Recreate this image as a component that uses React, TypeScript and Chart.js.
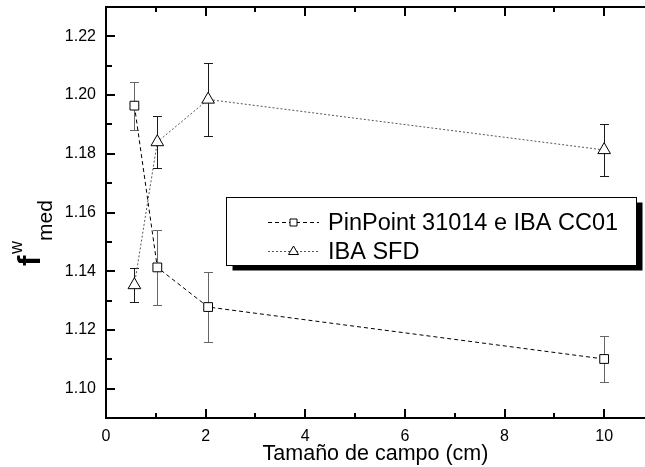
import React, { useEffect, useRef } from 'react';
import { Chart, registerables } from 'chart.js';

Chart.register(...registerables);

// ---- data ----
const fieldSizes = [0.57, 1.03, 2.05, 10];
const pinpointValues = [1.1964, 1.1413, 1.1278, 1.1101];
const pinpointErrors = [0.0082, 0.0128, 0.0118, 0.008];
const sfdValues = [1.1353, 1.184, 1.1985, 1.1813];
const sfdErrors = [0.0057, 0.0089, 0.0124, 0.0088];
const seriesLabels = ['PinPoint 31014 e IBA CC01', 'IBA SFD'];
const xMajorTicks = [0, 2, 4, 6, 8, 10];
const xMinorTicks = [1, 3, 5, 7, 9];
const yMajorTicks = [1.1, 1.12, 1.14, 1.16, 1.18, 1.2, 1.22];
const yMinorTicks = [1.11, 1.13, 1.15, 1.17, 1.19, 1.21];
const xAxisTitle = 'Tamaño de campo (cm)';
const yTitleMain = 'f';
const yTitleSup = 'w';
const yTitleSub = 'med';

const X_MIN = 0;
const X_MAX = 10.82;
const Y_MIN = 1.09;
const Y_MAX = 1.23;

const FONT = "'Liberation Sans', Arial, Helvetica, sans-serif";

const zeroPadding = (scale: any) => {
  scale.paddingTop = 0;
  scale.paddingBottom = 0;
  scale.paddingLeft = 0;
  scale.paddingRight = 0;
};

const decorPlugin = {
  id: 'decor',
  beforeDatasetsDraw(chart: any) {
    const ctx = chart.ctx;
    const xs = chart.scales.x;
    const ys = chart.scales.y;
    const series = [
      { v: pinpointValues, e: pinpointErrors, c: '#666666' },
      { v: sfdValues, e: sfdErrors, c: '#1a1a1a' },
    ];
    ctx.save();
    ctx.lineWidth = 1;
    ctx.setLineDash([]);
    series.forEach((s) => {
      ctx.strokeStyle = s.c;
      fieldSizes.forEach((xv, i) => {
        const x = Math.round(xs.getPixelForValue(xv)) + 0.5;
        const yt = Math.round(ys.getPixelForValue(s.v[i] + s.e[i])) + 0.5;
        const yb = Math.round(ys.getPixelForValue(s.v[i] - s.e[i])) + 0.5;
        ctx.beginPath();
        ctx.moveTo(x, yt);
        ctx.lineTo(x, yb);
        ctx.moveTo(x - 4.5, yt);
        ctx.lineTo(x + 4.5, yt);
        ctx.moveTo(x - 4.5, yb);
        ctx.lineTo(x + 4.5, yb);
        ctx.stroke();
      });
    });
    ctx.restore();
  },
  afterDraw(chart: any) {
    const ctx = chart.ctx;
    const xs = chart.scales.x;
    const ys = chart.scales.y;
    const area = chart.chartArea;
    ctx.save();
    ctx.setLineDash([]);
    ctx.strokeStyle = '#000';
    ctx.lineWidth = 2;
    // top border
    ctx.beginPath();
    ctx.moveTo(area.left - 1, area.top);
    ctx.lineTo(chart.width, area.top);
    ctx.stroke();
    // inward ticks
    ctx.beginPath();
    const tickX = (v: number, len: number) => {
      const x = Math.round(xs.getPixelForValue(v));
      ctx.moveTo(x, area.bottom);
      ctx.lineTo(x, area.bottom - len);
      ctx.moveTo(x, area.top);
      ctx.lineTo(x, area.top + len);
    };
    xMajorTicks.forEach((v) => { if (v > X_MIN) tickX(v, 9); });
    xMinorTicks.forEach((v) => tickX(v, 5));
    const tickY = (v: number, len: number) => {
      const y = Math.round(ys.getPixelForValue(v));
      ctx.moveTo(area.left, y);
      ctx.lineTo(area.left + len, y);
    };
    yMajorTicks.forEach((v) => tickY(v, 9));
    yMinorTicks.forEach((v) => tickY(v, 6));
    ctx.stroke();

    // legend
    const lx = 226.5, ly = 197.5, lw = 410, lh = 68;
    ctx.fillStyle = '#000';
    ctx.fillRect(lx + 6, ly + 5, lw, lh);
    ctx.fillStyle = '#fff';
    ctx.fillRect(lx, ly, lw, lh);
    ctx.lineWidth = 1;
    ctx.strokeStyle = '#000';
    ctx.strokeRect(lx, ly, lw, lh);
    const rows = [
      { y: 222.5, dash: [4, 3], color: '#000', style: 'rect', label: seriesLabels[0] },
      { y: 251.5, dash: [2, 2], color: '#555', style: 'triangle', label: seriesLabels[1] },
    ];
    rows.forEach((row) => {
      ctx.strokeStyle = row.color;
      ctx.lineWidth = 1;
      ctx.setLineDash(row.dash);
      ctx.beginPath();
      ctx.moveTo(268, row.y);
      ctx.lineTo(319, row.y);
      ctx.stroke();
      ctx.setLineDash([]);
      ctx.fillStyle = '#fff';
      ctx.strokeStyle = '#000';
      ctx.beginPath();
      if (row.style === 'rect') {
        ctx.rect(290, row.y - 3.5, 7, 7);
      } else {
        ctx.moveTo(293.5, row.y - 5.5);
        ctx.lineTo(298.5, row.y + 3);
        ctx.lineTo(288.5, row.y + 3);
        ctx.closePath();
      }
      ctx.fill();
      ctx.stroke();
      ctx.fillStyle = '#000';
      ctx.font = `23.5px ${FONT}`;
      ctx.textBaseline = 'middle';
      ctx.textAlign = 'left';
      ctx.fillText(row.label, 328, row.y + 1);
    });

    // y axis title f^w_med
    ctx.save();
    ctx.translate(40, 266);
    ctx.rotate(-Math.PI / 2);
    ctx.fillStyle = '#000';
    ctx.textBaseline = 'alphabetic';
    ctx.textAlign = 'left';
    ctx.font = `bold 31px ${FONT}`;
    ctx.fillText(yTitleMain, 0, 0);
    ctx.font = `18px ${FONT}`;
    ctx.fillText(yTitleSup, 12, -18);
    ctx.font = `21px ${FONT}`;
    ctx.fillText(yTitleSub, 25, 12);
    ctx.restore();

    ctx.restore();
  },
};

export default function App() {
  const canvasRef = useRef<HTMLCanvasElement | null>(null);

  useEffect(() => {
    const canvas = canvasRef.current;
    if (!canvas) return;
    const mk = (vals: number[]) => fieldSizes.map((x, i) => ({ x, y: vals[i] }));
    const chart = new Chart(canvas, {
      type: 'line',
      data: {
        datasets: [
          {
            label: seriesLabels[0],
            data: mk(pinpointValues),
            borderColor: '#000',
            borderWidth: 1,
            borderDash: [4, 3],
            pointStyle: 'rect',
            pointRadius: 6.2,
            pointBackgroundColor: '#fff',
            pointBorderColor: '#000',
            pointBorderWidth: 1,
            tension: 0,
          },
          {
            label: seriesLabels[1],
            data: mk(sfdValues),
            borderColor: '#555',
            borderWidth: 1,
            borderDash: [2, 2],
            pointStyle: 'triangle',
            pointRadius: 7.3,
            pointBackgroundColor: '#fff',
            pointBorderColor: '#000',
            pointBorderWidth: 1,
            tension: 0,
          },
        ],
      },
      options: {
        animation: false,
        responsive: false,
        maintainAspectRatio: false,
        devicePixelRatio: 1,
        layout: { autoPadding: false, padding: { top: 7, right: 0, bottom: 0, left: 0 } },
        plugins: {
          legend: { display: false },
          tooltip: { enabled: false },
        },
        scales: {
          x: {
            type: 'linear',
            min: X_MIN,
            max: X_MAX,
            afterBuildTicks: (scale: any) => {
              scale.ticks = xMajorTicks.map((value) => ({ value }));
            },
            afterFit: (scale: any) => {
              scale.height = 49;
              zeroPadding(scale);
            },
            grid: { display: false, drawTicks: false },
            border: { display: true, color: '#000', width: 2 },
            ticks: {
              color: '#000',
              padding: 9,
              maxRotation: 0,
              autoSkip: false,
              font: { size: 16, family: FONT },
              callback: (v: any) => String(v),
            },
            title: {
              display: true,
              text: xAxisTitle,
              color: '#000',
              font: { size: 21.5, family: FONT },
              padding: { top: 0, bottom: 0 },
            },
          },
          y: {
            type: 'linear',
            min: Y_MIN,
            max: Y_MAX,
            afterBuildTicks: (scale: any) => {
              scale.ticks = yMajorTicks.map((value) => ({ value }));
            },
            afterFit: (scale: any) => {
              scale.width = 106;
              zeroPadding(scale);
            },
            grid: { display: false, drawTicks: false },
            border: { display: true, color: '#000', width: 2 },
            ticks: {
              color: '#000',
              padding: 10,
              autoSkip: false,
              font: { size: 16, family: FONT },
              callback: (v: any) => Number(v).toFixed(2),
            },
          },
        },
      },
      plugins: [decorPlugin],
    } as any);
    return () => chart.destroy();
  }, []);

  return (
    <div style={{ position: 'fixed', left: 0, top: 0, width: 645, height: 467, background: '#fff' }}>
      <canvas ref={canvasRef} width={645} height={467} style={{ display: 'block', width: 645, height: 467 }} />
    </div>
  );
}
